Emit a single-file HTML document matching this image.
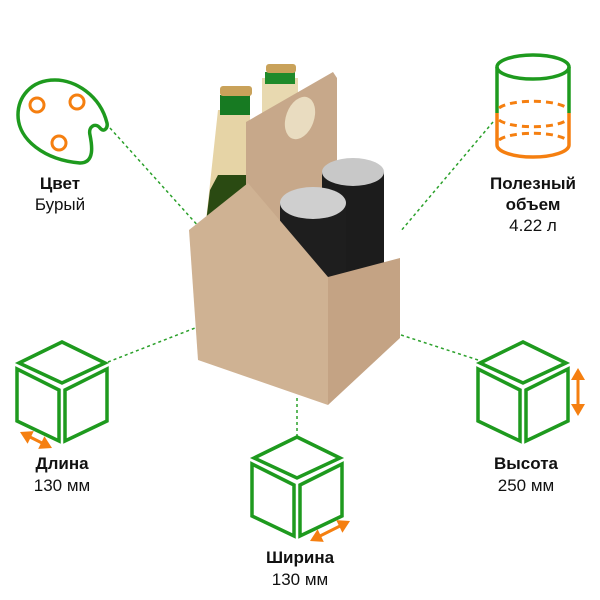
<!DOCTYPE html>
<html><head><meta charset="utf-8"><style>
body{margin:0;background:#fff;}
svg{display:block;font-family:"Liberation Sans",sans-serif;}
</style></head><body>
<svg width="600" height="600" viewBox="0 0 600 600">
<defs>
<g id="cube" fill="none" stroke="#1e9a1e" stroke-width="3.5" stroke-linejoin="miter">
<polygon points="0,0 -43,21 0,41 43,21"/>
<polygon points="-45,27 -3,48 -3,99 -45,79"/>
<polygon points="3,48 45,27 45,79 3,99"/>
</g>
</defs>
<g stroke="#2aa02a" stroke-width="1.5" stroke-dasharray="3,3" fill="none">
<line x1="110" y1="128" x2="200" y2="228"/>
<line x1="493" y1="122" x2="400" y2="232"/>
<line x1="108" y1="362" x2="195" y2="328"/>
<line x1="478" y1="360" x2="395" y2="333"/>
<line x1="297" y1="437" x2="297" y2="395"/>
</g>
<!-- bottles -->
<rect x="262" y="78" width="36" height="120" fill="#e8d9b0"/>
<rect x="265" y="72" width="30" height="12" fill="#1f8a2a"/>
<rect x="266" y="64" width="30" height="9" rx="3" fill="#c9a25a"/>
<path d="M218,110 L250,110 L250,230 L205,230 Z" fill="#e6d4a6"/>
<rect x="220" y="95" width="30" height="20" fill="#177a22"/>
<rect x="220" y="86" width="32" height="10" rx="3" fill="#c9a25a"/>
<path d="M218,175 L250,175 L250,230 L205,230 L210,190 Z" fill="#2a4a12"/>
<!-- handle panel -->
<polygon points="246,122 333,72 337,78 337,265 246,265" fill="#c7a88a"/>
<ellipse cx="300" cy="118" rx="14" ry="22" fill="#e9dcc0" transform="rotate(20 300 118)"/>
<!-- cans -->
<rect x="322" y="172" width="62" height="110" fill="#1c1c1c"/>
<ellipse cx="353" cy="172" rx="31" ry="14" fill="#c8c8c8"/>
<rect x="280" y="203" width="66" height="120" fill="#1e1e1e"/>
<ellipse cx="313" cy="203" rx="33" ry="16" fill="#cfcfcf"/>
<!-- box -->
<polygon points="328,277 400,258 400,338 328,405" fill="#c4a384"/>
<polygon points="189,230 248,183 328,277 328,405 198,360" fill="#cfb293"/>
<!-- palette -->
<path d="M107,123 C100,95 75,80 55,80 C30,80 18,98 18,115 C18,140 45,160 80,163 C95,163 92,145 90,135 C88,127 95,122 100,128 C104,133 108,128 107,123 Z" fill="none" stroke="#1e9a1e" stroke-width="3.5"/>
<g fill="none" stroke="#f57f10" stroke-width="3"><circle cx="37" cy="105" r="7"/><circle cx="77" cy="102" r="7"/><circle cx="59" cy="143" r="7"/></g>
<!-- cylinder -->
<ellipse cx="533" cy="67" rx="36" ry="12" fill="none" stroke="#1e9a1e" stroke-width="3.5"/>
<line x1="497" y1="67" x2="497" y2="113" stroke="#1e9a1e" stroke-width="3.5"/>
<line x1="569" y1="67" x2="569" y2="113" stroke="#1e9a1e" stroke-width="3.5"/>
<path d="M497,113 L497,145 A36,12 0 0 0 569,145 L569,113" fill="none" stroke="#f57f10" stroke-width="3.5"/>
<g fill="none" stroke="#f57f10" stroke-width="3" stroke-dasharray="7,5">
<path d="M499,108 A36,10 0 0 1 567,108"/>
<path d="M499,120 A36,10 0 0 0 567,120"/>
<path d="M499,140 A36,10 0 0 1 567,140"/>
</g>
<!-- cubes -->
<use href="#cube" x="62" y="342"/>
<use href="#cube" x="523" y="342"/>
<use href="#cube" x="297" y="437"/>
<g stroke="#f57f10" stroke-width="3">
<line x1="30" y1="437" x2="42" y2="443"/>
<line x1="578" y1="380" x2="578" y2="404"/>
<line x1="320" y1="536" x2="340" y2="526"/>
</g>
<g fill="#f57f10">
<polygon points="52,448 38.2,448.9 44.4,436.3"/>
<polygon points="20,432 27.6,443.7 33.8,431.1"/>
<polygon points="578,368 571,380 585,380"/>
<polygon points="578,416 571,404 585,404"/>
<polygon points="350,521 342.4,532.7 336.2,520.1"/>
<polygon points="310,541 323.8,541.9 317.6,529.3"/>
</g>
<g font-size="17" text-anchor="middle" fill="#111">
<text x="60" y="189" font-weight="bold">Цвет</text>
<text x="60" y="210">Бурый</text>
<text x="533" y="189" font-weight="bold">Полезный</text>
<text x="533" y="210" font-weight="bold">объем</text>
<text x="533" y="231">4.22 л</text>
<text x="62" y="469" font-weight="bold">Длина</text>
<text x="62" y="491">130 мм</text>
<text x="526" y="469" font-weight="bold">Высота</text>
<text x="526" y="491">250 мм</text>
<text x="300" y="563" font-weight="bold">Ширина</text>
<text x="300" y="585">130 мм</text>
</g>
</svg>
</body></html>
